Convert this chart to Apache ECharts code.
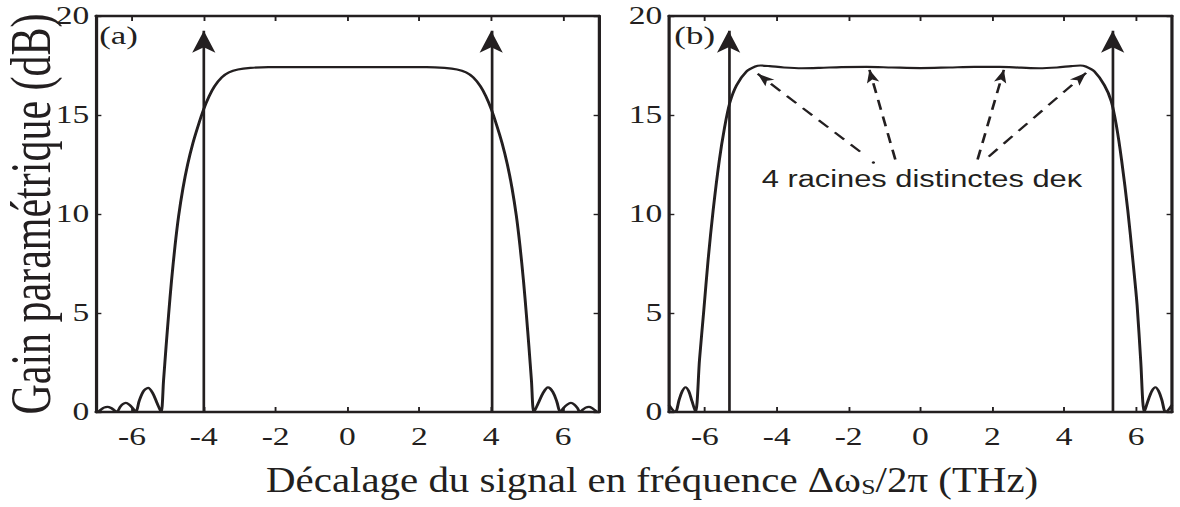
<!DOCTYPE html>
<html>
<head>
<meta charset="utf-8">
<script src="https://cdn.jsdelivr.net/npm/echarts@6/dist/echarts.min.js"></script>
<style>
html,body{margin:0;padding:0;background:#fff;overflow:hidden;}
#wrap{width:1180px;height:507px;overflow:hidden;position:relative;}
#chart{width:880px;height:507px;transform:scaleX(1.3409091);transform-origin:0 0;}
</style>
</head>
<body>
<div id="wrap"><div id="chart"></div></div>
<script>
// ---- data ----
const xTicks = [-6, -4, -2, 0, 2, 4, 6];
const yTicks = [0, 5, 10, 15, 20];

// panel (a): frequency offset (THz) and parametric gain (dB)
const xA = [-6.95,-6.86,-6.78,-6.68,-6.58,-6.50,-6.42,-6.33,-6.25,-6.17,-6.08,-5.98,-5.89,-5.80,-5.68,-5.55,-5.42,-5.30,-5.19,
  -5.12,-5.05,-4.98,-4.90,-4.80,-4.70,-4.58,-4.45,-4.30,-4.15,-4.00,-3.85,-3.70,-3.50,-3.30,-3.05,-2.70,
  -2.20,-1.00,0.00,1.00,2.20,
  2.70,3.05,3.30,3.50,3.70,3.85,4.00,4.15,4.30,4.45,4.58,4.70,4.80,4.90,4.98,5.05,5.12,
  5.19,5.31,5.44,5.58,5.72,5.83,5.92,6.01,6.12,6.22,6.31,6.40,6.47,6.55,6.63,6.72,6.81,6.88,6.94];
const gainA = [0.00,0.12,0.22,0.26,0.20,0.10,0.00,0.25,0.40,0.46,0.38,0.20,0.00,0.55,1.05,1.22,0.95,0.45,0.00,
  1.60,3.30,4.90,6.60,8.40,9.90,11.30,12.50,13.60,14.50,15.30,15.95,16.45,16.90,17.15,17.30,17.38,
  17.42,17.42,17.42,17.42,17.42,
  17.38,17.30,17.15,16.90,16.45,15.95,15.30,14.50,13.60,12.50,11.30,9.90,8.40,6.60,4.90,3.30,1.60,
  0.00,0.45,0.95,1.24,1.00,0.50,0.00,0.20,0.38,0.46,0.38,0.20,0.00,0.12,0.22,0.26,0.20,0.10,0.00];

// panel (b)
const xB = [-7.00,-6.92,-6.82,-6.72,-6.63,-6.54,-6.45,-6.36,-6.26,
  -6.15,-6.03,-5.91,-5.77,-5.60,-5.45,-5.31,-5.12,-4.84,-4.60,-4.45,
  -4.20,-3.80,-3.30,-2.80,-2.20,-1.50,-0.80,0.00,0.80,1.50,2.20,2.80,3.30,3.80,4.20,
  4.45,4.60,4.84,5.12,5.31,5.45,5.60,5.77,5.91,6.03,6.13,
  6.23,6.33,6.44,6.54,6.63,6.72,6.82,6.92,7.00];
const gainB = [0.35,0.15,0.00,0.60,1.05,1.25,1.05,0.55,0.00,
  2.65,5.15,7.70,10.20,12.70,14.40,15.60,16.50,17.20,17.45,17.50,
  17.47,17.40,17.36,17.38,17.42,17.43,17.40,17.37,17.40,17.43,17.43,17.39,17.36,17.40,17.47,
  17.50,17.45,17.20,16.50,15.70,14.50,12.70,10.20,7.70,5.40,2.60,
  0.00,0.55,1.05,1.25,1.05,0.60,0.00,0.15,0.35];

// pump positions (vertical arrows), arrow tip height in dB
const pumpsA = [-4.0, 4.0];
const pumpsB = [-5.34, 5.35];
const pumpTop = 19.25;

// dashed arrows to the 4 roots: start and tip (data units)
const rootFrom = [[-1.68, 13.15], [-0.70, 12.75], [1.59, 12.75], [1.90, 12.90]];
const rootTo   = [[-4.53, 17.08], [-1.42, 17.28], [2.32, 17.28], [4.61, 17.13]];
const rootDot  = [-1.31, 12.6];
const rootText = '4 racines distinctes deκ';
const rootTextPos = [0.04, 11.75];

const yLabel = 'Gain paramétrique (dB)';
const panelNames = ['(a)', '(b)'];

// ---- chart ----
const INK = '#231f20';
const SERIF = 'Liberation Serif';
const SANS = 'Liberation Sans';

function xAxisFor(gridIndex, position) {
  return {
    type: 'value', gridIndex: gridIndex, position: position, min: -7, max: 7,
    axisLine: { show: true, onZero: false, lineStyle: { color: INK, width: 2.4 } },
    axisTick: { show: true, inside: true, length: 5, customValues: xTicks, lineStyle: { color: INK, width: 1.4 } },
    axisLabel: { show: position === 'bottom', customValues: xTicks, margin: 12,
      formatter: function (v) { return String(v); },
      fontFamily: SERIF, fontSize: 25, color: INK },
    splitLine: { show: false }
  };
}
function yAxisFor(gridIndex, position) {
  return {
    type: 'value', gridIndex: gridIndex, position: position, min: 0, max: 20, interval: 5,
    axisLine: { show: true, onZero: false, lineStyle: { color: INK, width: 2.4 } },
    axisTick: { show: true, inside: true, length: 4, lineStyle: { color: INK, width: 1.4 } },
    axisLabel: { show: position === 'left', margin: 5, customValues: yTicks,
      fontFamily: SERIF, fontSize: 25, color: INK },
    splitLine: { show: false }
  };
}

function pumpLines(xs) {
  return xs.map(function (x) {
    return [{ coord: [x, 0] }, { coord: [x, pumpTop], symbol: 'arrow', symbolSize: [13, 22] }];
  });
}
function rootLines() {
  return rootFrom.map(function (p, i) {
    return [
      { coord: p, symbol: 'none', lineStyle: { type: [10, 7], width: 2, color: INK } },
      { coord: rootTo[i], symbol: 'arrow', symbolSize: [7, 13] }
    ];
  });
}

const chart = echarts.init(document.getElementById('chart'), null, { renderer: 'svg' });
chart.setOption({
  animation: false,
  backgroundColor: '#fff',
  grid: [
    { left: 71.6, top: 16, width: 375.1, height: 396 },
    { left: 498.9, top: 16, width: 375.1, height: 396 }
  ],
  xAxis: [xAxisFor(0, 'bottom'), xAxisFor(0, 'top'), xAxisFor(1, 'bottom'), xAxisFor(1, 'top')],
  yAxis: [yAxisFor(0, 'left'), yAxisFor(0, 'right'), yAxisFor(1, 'left'), yAxisFor(1, 'right')],
  series: [
    {
      type: 'line', xAxisIndex: 0, yAxisIndex: 0,
      data: xA.map(function (x, i) { return [x, gainA[i]]; }),
      showSymbol: false, smooth: 0.3, clip: true,
      lineStyle: { color: INK, width: 2.2 },
      markLine: {
        silent: true, symbol: ['none', 'arrow'], animation: false,
        label: { show: false },
        lineStyle: { color: INK, width: 2, type: 'solid' },
        itemStyle: { color: INK },
        data: pumpLines(pumpsA)
      }
    },
    {
      type: 'line', xAxisIndex: 2, yAxisIndex: 2,
      data: xB.map(function (x, i) { return [x, gainB[i]]; }),
      showSymbol: false, smooth: 0.3, clip: true,
      lineStyle: { color: INK, width: 2.2 },
      markLine: {
        silent: true, symbol: ['none', 'arrow'], animation: false,
        label: { show: false },
        lineStyle: { color: INK, width: 2, type: 'solid' },
        itemStyle: { color: INK },
        data: pumpLines(pumpsB).concat(rootLines())
      },
      markPoint: {
        silent: true, symbol: 'circle', symbolSize: 1,
        itemStyle: { color: 'rgba(0,0,0,0)' },
        label: { show: true, position: 'inside', formatter: rootText,
          fontFamily: SANS, fontSize: 23, color: INK },
        data: [
          { coord: rootTextPos },
          { coord: rootDot, symbolSize: 2.5, itemStyle: { color: INK }, label: { show: false } }
        ]
      }
    }
  ],
  graphic: [
    { type: 'text', x: 74, y: 22.8, silent: true,
      style: { text: panelNames[0], fontFamily: SERIF, fontSize: 26, fill: INK, align: 'left', verticalAlign: 'top' } },
    { type: 'text', x: 502.9, y: 22.8, silent: true,
      style: { text: panelNames[1], fontFamily: SERIF, fontSize: 26, fill: INK, align: 'left', verticalAlign: 'top' } },
    { type: 'text', x: 23.6, y: 214, rotation: Math.PI / 2, silent: true,
      style: { text: yLabel, fontFamily: SERIF, fontSize: 42, lineHeight: 40, fill: INK, align: 'center', verticalAlign: 'middle' } },
    { type: 'text', x: 198.4, y: 480, scaleX: 0.872, silent: true,
      style: {
        text: 'Décalage du signal en fréquence Δω{s|S}/2π (THz)',
        fontFamily: SERIF, fontSize: 35, fill: INK, align: 'left', verticalAlign: 'middle',
        rich: { s: { fontSize: 22, fontFamily: SERIF, fill: INK, verticalAlign: 'bottom' } }
      } }
  ]
});
</script>
</body>
</html>
